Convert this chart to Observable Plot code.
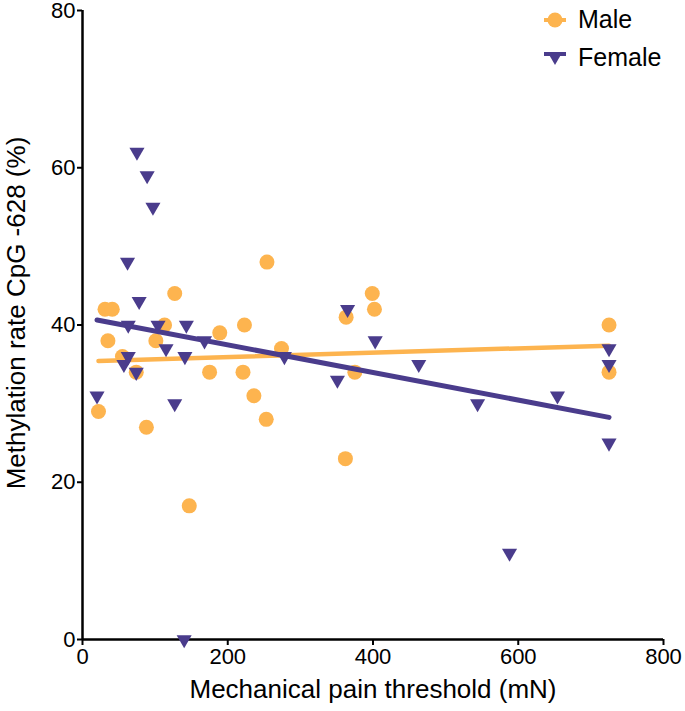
<!DOCTYPE html>
<html><head><meta charset="utf-8">
<script src="https://cdn.jsdelivr.net/npm/d3@7"></script>
<script src="https://cdn.jsdelivr.net/npm/@observablehq/plot@0.6"></script>
<style>
body{margin:0;background:#fff;}
#wrap{position:relative;width:685px;height:711px;font-family:"Liberation Sans",Arial,sans-serif;}
.leg{position:absolute;left:540px;display:flex;align-items:center;font-size:25px;color:#000;line-height:1;}
.leg svg{margin-right:8px;}
</style></head><body><div id="wrap"></div>
<script>
const seriesNames = ["Male", "Female"];
const seriesColors = ["#FDB44F", "#4A3C8C"];
const maleX = [22, 31, 41, 35, 55, 74, 88, 101, 113, 127, 147, 175, 189, 221, 223, 236, 253, 254, 274, 362, 363, 375, 399, 402, 725, 725];
const maleY = [29, 42, 42, 38, 36, 34, 27, 38, 40, 44, 17, 34, 39, 34, 40, 31, 28, 48, 37, 23, 41, 34, 44, 42, 40, 34];
const femaleX = [20, 57, 63, 63, 62, 74, 75, 78, 89, 97, 104, 115, 127, 140, 141, 143, 168, 278, 351, 365, 403, 463, 544, 588, 654, 725, 725, 725];
const femaleY = [31, 35, 36, 40, 48, 34, 62, 43, 59, 55, 40, 37, 30, 0, 36, 40, 38, 36, 33, 42, 38, 35, 30, 11, 31, 37, 35, 25];
const xTicks = [0, 200, 400, 600, 800];
const yTicks = [0, 20, 40, 60, 80];
const xLabel = "Mechanical pain threshold (mN)";
const yLabel = "Methylation rate CpG -628 (%)";

const male = maleX.map((x, i) => ({x, y: maleY[i]}));
const female = femaleX.map((x, i) => ({x, y: femaleY[i]}));
const [orange, purple] = seriesColors;

const chart = Plot.plot({
  width: 685, height: 711,
  marginLeft: 82, marginRight: 22, marginTop: 10, marginBottom: 72,
  style: {fontFamily: '"Liberation Sans", Arial, sans-serif', color: "#000", background: "#fff", overflow: "visible"},
  x: {domain: [0, 800]},
  y: {domain: [0, 80]},
  marks: [
    Plot.axisX({ticks: xTicks, tickSize: 6, tickPadding: 3, fontSize: 22, label: null, strokeWidth: 2}),
    Plot.axisY({ticks: yTicks, tickSize: 5, tickPadding: 2, fontSize: 22, label: null, strokeWidth: 2}),
    Plot.ruleX([0], {stroke: "#000", strokeWidth: 2.5}),
    Plot.ruleY([0], {stroke: "#000", strokeWidth: 2.5}),
    Plot.text([xLabel], {frameAnchor: "bottom", dy: 50, fontSize: 26, lineAnchor: "middle", textAnchor: "middle"}),
    Plot.text([yLabel], {frameAnchor: "left", dx: -66, dy: -12, rotate: -90, fontSize: 26, lineAnchor: "middle", textAnchor: "middle"}),
    Plot.dot(male, {x: "x", y: "y", r: 7.5, fill: orange, symbol: "circle"}),
    Plot.linearRegressionY(male, {x: "x", y: "y", stroke: orange, strokeWidth: 4.5, ci: 0}),
    Plot.dot(female, {x: "x", y: "y", r: 5.6, fill: purple, symbol: "triangle", rotate: 180}),
    Plot.linearRegressionY(female, {x: "x", y: "y", stroke: purple, strokeWidth: 5, ci: 0})
  ]
});
const wrap = document.getElementById("wrap");
wrap.appendChild(chart);

const tops = [7, 45];
seriesNames.forEach((name, i) => {
  const d = document.createElement("div");
  d.className = "leg";
  d.style.top = tops[i] + "px";
  const sym = i === 0
    ? `<circle cx="15" cy="12" r="7.5" fill="${seriesColors[i]}"/>`
    : `<path d="M7.5,6 L22.5,6 L15,19 Z" fill="${seriesColors[i]}"/>`;
  d.innerHTML = `<svg width="30" height="24"><line x1="4" x2="26" y1="${i===0?12:8}" y2="${i===0?12:8}" stroke="${seriesColors[i]}" stroke-width="4"/>${sym}</svg><span>${name}</span>`;
  wrap.appendChild(d);
});
</script>
</body></html>
